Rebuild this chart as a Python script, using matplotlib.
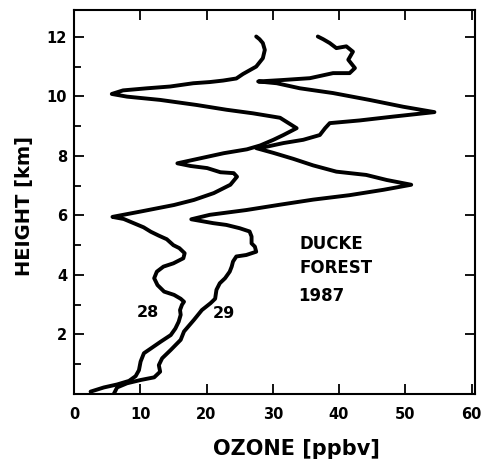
import matplotlib
matplotlib.use("Agg")
import matplotlib.pyplot as plt
from matplotlib.ticker import MultipleLocator

plt.rcParams['font.family'] = ['DejaVu Sans']

# Ozone profile, day 28 (ppbv vs km)
ozone_28 = [2.5, 4.5, 6.5, 8.3, 9.3, 9.8, 10.05, 10.55, 11.6, 13.1, 14.6, 15.3, 15.8, 16.1, 16.0,
            16.3, 16.6, 16.1, 15.1, 13.6, 12.6, 12.1, 12.5, 13.5, 15.0, 16.5, 16.7, 15.9, 15.0,
            14.0, 12.8, 11.6, 10.5, 9.0, 7.5, 5.8, 6.5, 10.05, 15.1, 18.1, 21.1, 23.6, 24.6,
            24.1, 22.1, 20.1, 17.6, 15.6, 19.1, 22.6, 26.1, 28.1, 30.1, 31.6, 33.6, 31.1, 27.0,
            23.0, 18.5, 13.0, 8.0, 5.7, 7.4, 11.0, 14.5, 18.0, 20.5, 22.5, 24.5, 25.5, 27.5,
            28.5, 28.8, 28.5, 28.0, 27.5]
height_28 = [0.08, 0.22, 0.32, 0.44, 0.6, 0.8, 1.09, 1.37, 1.53, 1.76, 1.98, 2.2, 2.43, 2.66, 2.82,
             3.0, 3.1, 3.2, 3.33, 3.44, 3.66, 3.89, 4.11, 4.28, 4.39, 4.56, 4.73, 4.9, 5.0,
             5.2, 5.32, 5.45, 5.6, 5.74, 5.88, 5.95, 5.98, 6.13, 6.35, 6.52, 6.75, 7.03, 7.3,
             7.42, 7.45, 7.59, 7.66, 7.75, 7.92, 8.09, 8.22, 8.35, 8.54, 8.7, 8.93, 9.28, 9.43,
             9.55, 9.71, 9.88, 9.99, 10.08, 10.2, 10.27, 10.33, 10.44, 10.48, 10.53, 10.6, 10.75, 11.0,
             11.28, 11.56, 11.79, 11.92, 12.01]

# Ozone profile, day 29
ozone_29 = [6.0, 6.5, 8.0, 10.05, 12.1, 13.0, 12.8, 13.3, 14.6, 16.1, 16.6, 18.1, 19.3, 20.6,
            21.3, 21.5, 22.0, 22.8, 23.5, 23.8, 24.0, 24.5, 26.0, 27.5, 27.3, 26.8, 26.8, 26.5,
            25.0, 23.0, 21.0, 17.7, 20.5, 26.0, 31.1, 36.1, 41.6, 46.7, 50.9, 47.2, 44.1, 39.6,
            36.1, 33.1, 30.1, 27.5, 29.1, 31.6, 34.6, 37.1, 37.9, 38.6, 43.1, 48.2, 54.4, 49.7,
            44.6, 39.1, 34.1, 30.6, 27.8, 31.6, 35.6, 39.1, 41.6, 42.4, 41.4, 42.1, 41.1, 39.6,
            38.6, 37.6, 36.8]
height_29 = [0.0, 0.22, 0.36, 0.47, 0.56, 0.75, 0.97, 1.2, 1.48, 1.82, 2.1, 2.49, 2.82, 3.05,
             3.2, 3.5, 3.72, 3.89, 4.11, 4.28, 4.45, 4.62, 4.67, 4.78, 4.95, 5.06, 5.29, 5.46,
             5.57, 5.68, 5.74, 5.87, 6.02, 6.18, 6.36, 6.53, 6.68, 6.86, 7.03, 7.19, 7.36, 7.47,
             7.68, 7.9, 8.1, 8.26, 8.31, 8.43, 8.54, 8.7, 8.93, 9.1, 9.19, 9.32, 9.47, 9.65,
             9.88, 10.11, 10.27, 10.44, 10.5, 10.55, 10.61, 10.78, 10.78, 10.95, 11.23, 11.5, 11.68, 11.62,
             11.79, 11.92, 12.01]

x_ticks = [0, 10, 20, 30, 40, 50, 60]
y_ticks = [2, 4, 6, 8, 10, 12]

fig = plt.figure(figsize=(4.87, 4.66), dpi=100)
ax = fig.add_axes([0.152, 0.1545, 0.823, 0.824])

ax.plot(ozone_28, height_28, color='black', lw=2.8, solid_joinstyle='round', solid_capstyle='round')
ax.plot(ozone_29, height_29, color='black', lw=2.8, solid_joinstyle='round', solid_capstyle='round')

ax.set_xlim(0, 60.5)
ax.set_ylim(0, 12.9)
ax.set_xticks(x_ticks)
ax.set_yticks(y_ticks)
ax.yaxis.set_minor_locator(MultipleLocator(1))

for s in ax.spines.values():
    s.set_linewidth(1.5)

ax.tick_params(axis='both', which='major', direction='in', length=7, width=1.3,
               labelsize=10.5, top=True, right=True)
ax.tick_params(axis='x', which='major', pad=9)
ax.tick_params(axis='y', which='major', pad=5)
ax.tick_params(axis='y', which='minor', direction='in', length=5, width=1.3,
               left=True, right=False)
ax.tick_params(axis='x', which='minor', bottom=False, top=False)
for lbl in ax.get_xticklabels() + ax.get_yticklabels():
    lbl.set_fontweight('bold')

ax.set_xlabel('OZONE [ppbv]', fontsize=15, fontweight='bold')
ax.xaxis.set_label_coords(0.556, -0.118)
ax.set_ylabel('HEIGHT [km]', fontsize=14, fontweight='bold')
ax.yaxis.set_label_coords(-0.10, 0.49)

ax.text(34.1, 5.04, 'DUCKE', fontsize=12, fontweight='bold', ha='left', va='center')
ax.text(34.1, 4.24, 'FOREST', fontsize=12, fontweight='bold', ha='left', va='center')
ax.text(33.9, 3.29, '1987', fontsize=12, fontweight='bold', ha='left', va='center')
ax.text(11.2, 2.75, '28', fontsize=11.5, fontweight='bold', ha='center', va='center')
ax.text(22.6, 2.72, '29', fontsize=11.5, fontweight='bold', ha='center', va='center')

fig.savefig('out.png', dpi=100)
